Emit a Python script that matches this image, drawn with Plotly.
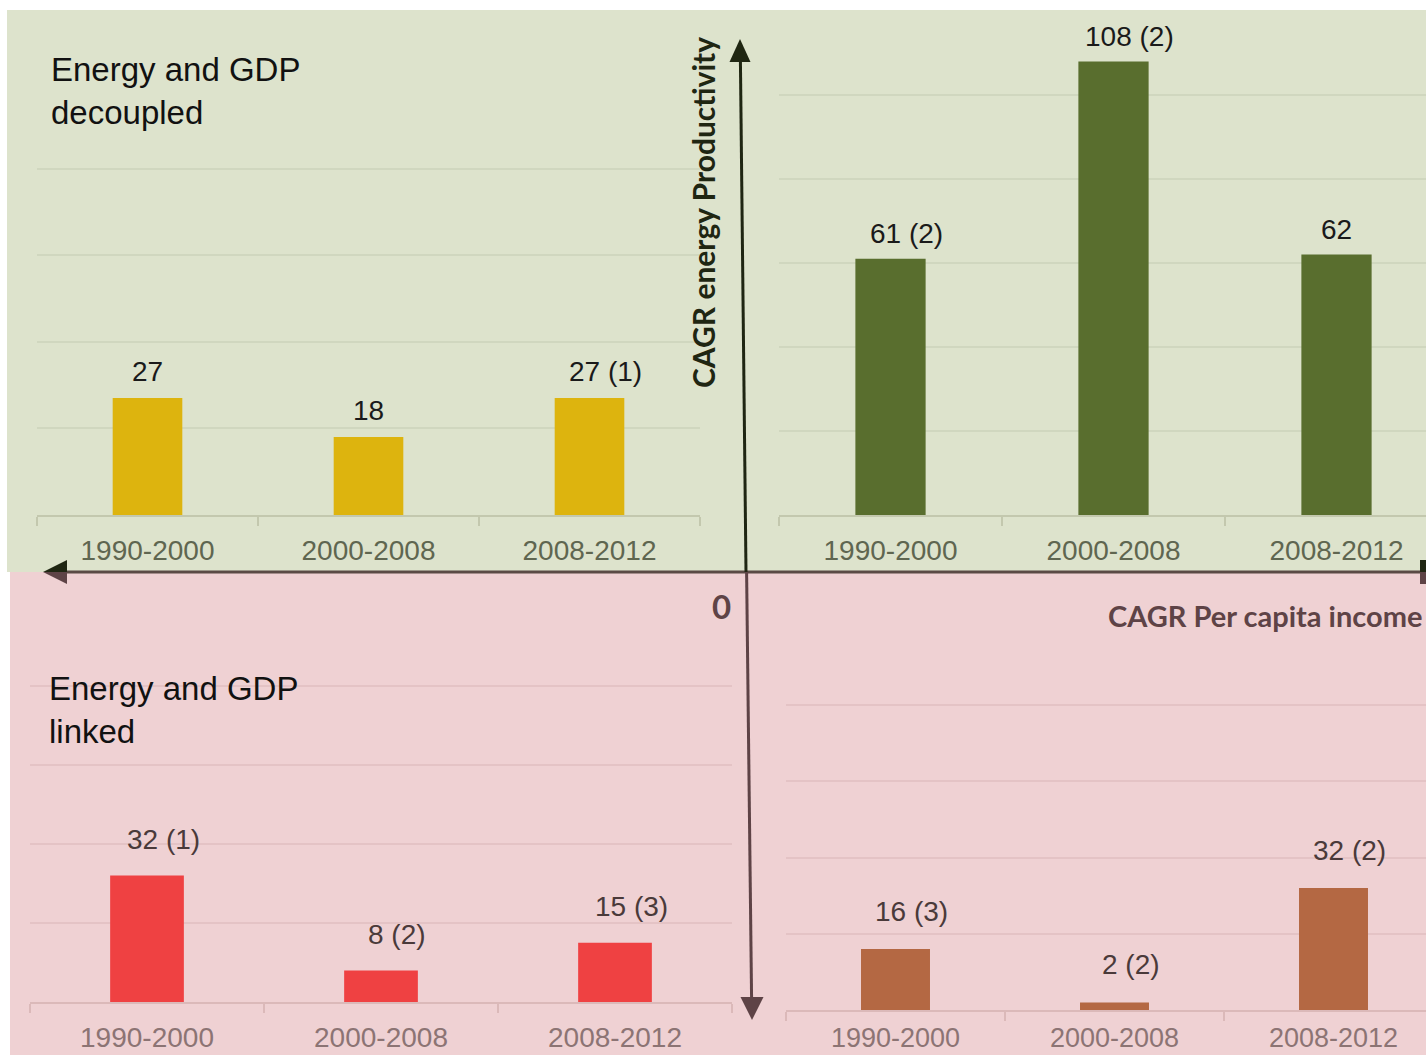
import plotly.graph_objects as go

W, H = 1426, 1055

# ---------------- data ----------------
periods = ["1990-2000", "2000-2008", "2008-2012"]

decoupled_low_values = [27, 18, 27]
decoupled_low_labels = ["27", "18", "27 (1)"]

decoupled_high_values = [61, 108, 62]
decoupled_high_labels = ["61 (2)", "108 (2)", "62"]

linked_low_values = [32, 8, 15]
linked_low_labels = ["32 (1)", "8 (2)", "15 (3)"]

linked_high_values = [16, 2, 32]
linked_high_labels = ["16 (3)", "2 (2)", "32 (2)"]

grid_values = [20, 40, 60, 80, 100]

# ---------------- helpers ----------------
def px(x):
    return x / W

def py(y):
    return 1 - y / H

GREEN_BG = "#dde3cc"
PINK_BG = "#efd1d3"
DARK = "#1f2612"
BROWN = "#5e4346"

panels = [
    dict(name="", values=decoupled_low_values, labels=decoupled_low_labels,
         color="#ddb40e", xpx=(37, 700), ypx=(82, 515), yrange=(0, 100), catw=221,
         grid="#d0d7bf", axis="#c3c8ae", tick="#5f6650", lab="#1a1a1a", yshift=27,
         stand=9, tsize=28),
    dict(name="2", values=decoupled_high_values, labels=decoupled_high_labels,
         color="#596e2e", xpx=(779, 1426), ypx=(11, 515), yrange=(0, 120), catw=223,
         grid="#d0d7bf", axis="#c3c8ae", tick="#5f6650", lab="#1a1a1a", yshift=25,
         stand=9, tsize=28),
    dict(name="3", values=linked_low_values, labels=linked_low_labels,
         color="#ef4142", xpx=(30, 732), ypx=(607, 1002), yrange=(0, 100), catw=234,
         grid="#e4c3c5", axis="#dbb9b9", tick="#8c7474", lab="#4a3a3a", yshift=36,
         stand=9, tsize=28),
    dict(name="4", values=linked_high_values, labels=linked_high_labels,
         color="#b46843", xpx=(786, 1426), ypx=(629, 1010), yrange=(0, 100), catw=219,
         grid="#e4c3c5", axis="#dbb9b9", tick="#8c7474", lab="#4a3a3a", yshift=38,
         stand=3, tsize=27),
]

fig = go.Figure()
annotations = []
layout_axes = {}

for p in panels:
    n = p["name"]
    xa, ya = "x" + n, "y" + n
    fig.add_trace(go.Bar(
        x=periods, y=p["values"], xaxis=xa, yaxis=ya,
        marker=dict(color=p["color"], line=dict(width=0)),
        width=0.315, hoverinfo="skip", showlegend=False,
    ))
    x0, x1 = p["xpx"]
    ytop, ybot = p["ypx"]
    xr_end = -0.5 + (x1 - x0) / p["catw"]
    layout_axes["xaxis" + n] = dict(
        domain=[px(x0), px(x1)], anchor=ya, type="category",
        range=[-0.5, xr_end], showgrid=False, zeroline=False,
        showline=True, linecolor=p["axis"], linewidth=2,
        ticks="outside", tickson="boundaries", ticklen=9, tickcolor=p["axis"], tickwidth=2,
        ticklabelstandoff=p["stand"], automargin=False,
        tickfont=dict(family="Liberation Sans, Arial", size=p["tsize"], color=p["tick"]),
        fixedrange=True,
    )
    layout_axes["yaxis" + n] = dict(
        domain=[py(ybot), py(ytop)], anchor=xa, range=list(p["yrange"]),
        tickmode="array", tickvals=grid_values, showticklabels=False, ticks="",
        showgrid=True, gridcolor=p["grid"], gridwidth=2, zeroline=False, showline=False,
        automargin=False, fixedrange=True,
    )
    for cat, v, lab in zip(periods, p["values"], p["labels"]):
        annotations.append(dict(
            x=cat, y=v, xref=xa, yref=ya, text=lab, showarrow=False,
            xanchor="center", yanchor="middle",
            xshift=16 if "(" in lab else 0, yshift=p["yshift"],
            font=dict(family="Liberation Sans, Arial", size=28, color=p["lab"]),
        ))

# quadrant texts
annotations += [
    dict(x=px(49), y=py(49), xref="paper", yref="paper", xanchor="left", yanchor="top",
         align="left", showarrow=False, text="Energy and GDP<br>decoupled",
         font=dict(family="Liberation Sans, Arial", size=33, color="#111111")),
    dict(x=px(47), y=py(668), xref="paper", yref="paper", xanchor="left", yanchor="top",
         align="left", showarrow=False, text="Energy and GDP<br>linked",
         font=dict(family="Liberation Sans, Arial", size=33, color="#111111")),
    dict(x=px(703), y=py(213), xref="paper", yref="paper", xanchor="center", yanchor="middle",
         showarrow=False, text="<b>CAGR energy Productivity</b>", textangle=-90,
         font=dict(family="Lato, Open Sans", size=30, color=DARK)),
    dict(x=px(1106), y=py(615), xref="paper", yref="paper", xanchor="left", yanchor="middle",
         showarrow=False, text="<b>CAGR Per capita income</b>",
         font=dict(family="Lato, Open Sans", size=29, color=BROWN)),
    dict(x=px(721), y=py(606), xref="paper", yref="paper", xanchor="center", yanchor="middle",
         showarrow=False, text="<b>0</b>",
         font=dict(family="Lato, Open Sans", size=33, color=BROWN)),
]

def tri(points, color):
    d = "M " + " L ".join(f"{px(a)},{py(b)}" for a, b in points) + " Z"
    return dict(type="path", path=d, xref="paper", yref="paper",
                fillcolor=color, line=dict(width=0), layer="above")

def seg(a, b, color, w=3):
    return dict(type="line", xref="paper", yref="paper",
                x0=px(a[0]), y0=py(a[1]), x1=px(b[0]), y1=py(b[1]),
                line=dict(color=color, width=w), layer="above")

shapes = [
    dict(type="rect", xref="paper", yref="paper", x0=px(7), x1=1, y0=py(572), y1=py(10),
         fillcolor=GREEN_BG, line=dict(width=0), layer="below"),
    dict(type="rect", xref="paper", yref="paper", x0=px(10), x1=1, y0=0, y1=py(572),
         fillcolor=PINK_BG, line=dict(width=0), layer="below"),
    # horizontal axis
    seg((60, 572), (1426, 572), "#5a4a45", 3),
    # vertical axis, upper (dark) and lower (brown)
    seg((746, 572), (740.4, 60), DARK, 3),
    seg((746.6, 572), (751.6, 1000), BROWN, 3),
    # arrow heads
    tri([(740, 39), (729.5, 62), (750.5, 62)], DARK),
    tri([(752, 1020), (740.5, 997), (763.5, 997)], BROWN),
    tri([(43, 572), (67, 560), (67, 572)], DARK),
    tri([(43, 572), (67, 572), (67, 584)], BROWN),
    dict(type="rect", xref="paper", yref="paper", x0=px(1420), x1=1, y0=py(572), y1=py(560),
         fillcolor=DARK, line=dict(width=0), layer="above"),
    dict(type="rect", xref="paper", yref="paper", x0=px(1420), x1=1, y0=py(584), y1=py(572),
         fillcolor=BROWN, line=dict(width=0), layer="above"),
]

fig.update_layout(
    width=W, height=H,
    margin=dict(l=0, r=0, t=0, b=0, autoexpand=False),
    paper_bgcolor="white", plot_bgcolor="rgba(0,0,0,0)",
    showlegend=False,
    annotations=annotations,
    shapes=shapes,
    **layout_axes,
)

fig.write_html("out.html", config=dict(displayModeBar=False))
